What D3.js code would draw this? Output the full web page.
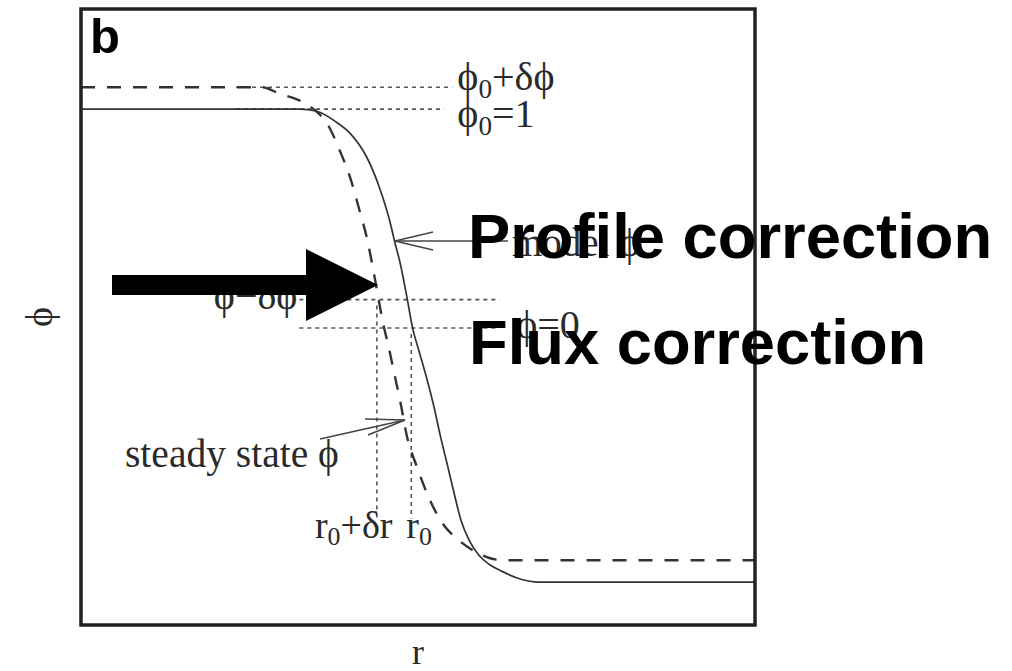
<!DOCTYPE html>
<html>
<head>
<meta charset="utf-8">
<script src="https://cdn.jsdelivr.net/npm/d3@7"></script>
<style>
  html, body { margin: 0; padding: 0; background: #fff; }
  svg { display: block; }
  .serif { font-family: "Liberation Serif", "DejaVu Serif", "Times New Roman", serif; fill: #2a2a2a; }
  .bold-sans { font-family: "Liberation Sans", Arial, Helvetica, sans-serif; font-weight: bold; fill: #000; }
</style>
</head>
<body>
<svg id="chart" width="1012" height="671"></svg>
<script>
// ---- data -------------------------------------------------------------
// radial coordinate r (arbitrary units) and order parameter ϕ

// solid profile (model ϕ)
const modelR   = [0, 3.24, 3.50, 3.79, 3.99, 4.24, 4.43, 4.58, 4.65, 4.74, 4.83, 4.92, 5.02,
                  5.13, 5.23, 5.33, 5.44, 5.54, 5.64, 5.76, 5.91, 6.06, 6.24, 6.46, 6.80, 10];
const modelPhi = [1.00, 1.00, 0.99, 0.94, 0.89, 0.78, 0.64, 0.49, 0.40, 0.29, 0.15, 0.00, -0.11,
                  -0.23, -0.35, -0.49, -0.63, -0.76, -0.88, -0.97, -1.04, -1.08, -1.11, -1.14, -1.16, -1.16];

// dashed profile (steady state ϕ)
const steadyR   = [0, 2.68, 2.95, 3.24, 3.47, 3.66, 3.84, 3.99, 4.13, 4.25, 4.34, 4.41, 4.49,
                   4.56, 4.65, 4.74, 4.84, 4.98, 5.14, 5.36, 5.61, 5.84, 6.06, 6.28, 10];
const steadyPhi = [1.10, 1.10, 1.07, 1.04, 0.995, 0.93, 0.81, 0.69, 0.54, 0.40, 0.26, 0.14, 0.01,
                   -0.08, -0.21, -0.34, -0.50, -0.63, -0.76, -0.89, -0.97, -1.02, -1.05, -1.06, -1.06];

// horizontal reference levels of ϕ and where their guides start / end in r
const levelNames = ["ϕ0+δϕ", "ϕ0=1", "ϕ−δϕ", "ϕ=0"];
const levelPhi   = [1.10, 1.00, 0.13, 0.00];
const levelFrom  = [2.30, 2.30, 3.24, 3.24];
const levelTo    = [5.51, 5.39, 6.21, 6.19];

// vertical reference positions in r
const radiusNames = ["r0+δr", "r0"];
const radiusR     = [4.39, 4.90];
const radiusPhi   = [0.13, 0.00];
const radiusLow   = -0.87;

// ---- layout -----------------------------------------------------------
const svg = d3.select("#chart");
const frame = { left: 81, right: 755, top: 9, bottom: 625 };

const x = d3.scaleLinear().domain([0, 10]).range([frame.left, frame.right]);
const y = d3.scaleLinear().domain([-1.356, 1.457]).range([frame.bottom, frame.top]);

const plot = svg.append("g");

// guide lines (dotted)
levelPhi.forEach((p, i) => {
  plot.append("line")
    .attr("x1", x(levelFrom[i])).attr("x2", x(levelTo[i]))
    .attr("y1", y(p)).attr("y2", y(p))
    .attr("stroke", "#555").attr("stroke-width", 1.6)
    .attr("stroke-dasharray", "4,4");
});
radiusR.forEach((r, i) => {
  plot.append("line")
    .attr("x1", x(r)).attr("x2", x(r))
    .attr("y1", y(radiusPhi[i]) + 6).attr("y2", y(radiusLow))
    .attr("stroke", "#555").attr("stroke-width", 1.6)
    .attr("stroke-dasharray", "4,4");
});

// profiles
const line = d3.line()
  .x(d => x(d[0])).y(d => y(d[1]))
  .curve(d3.curveMonotoneX);

plot.append("path")
  .datum(d3.zip(steadyR, steadyPhi))
  .attr("d", line)
  .attr("fill", "none").attr("stroke", "#333").attr("stroke-width", 2.4)
  .attr("stroke-dasharray", "14,12");

plot.append("path")
  .datum(d3.zip(modelR, modelPhi))
  .attr("d", line)
  .attr("fill", "none").attr("stroke", "#333").attr("stroke-width", 1.7);

// frame
plot.append("rect")
  .attr("x", frame.left).attr("y", frame.top)
  .attr("width", frame.right - frame.left).attr("height", frame.bottom - frame.top)
  .attr("fill", "none").attr("stroke", "#222").attr("stroke-width", 3.5);

// text with "0" subscripts
function richText(g, str, px, py, size, anchor) {
  const t = g.append("text").attr("class", "serif")
    .attr("x", px).attr("y", py)
    .attr("font-size", size)
    .attr("text-anchor", anchor || "start");
  const parts = str.split(/(0)/).filter(s => s.length);
  let sub = false;
  parts.forEach((s, k) => {
    const isSub = s === "0" && k > 0 && !/=$/.test(parts[k - 1]);
    const ts = t.append("tspan").text(s);
    if (isSub) {
      ts.attr("font-size", size * 0.68).attr("dy", size * 0.2);
      sub = true;
    } else if (sub) {
      ts.attr("dy", -size * 0.2);
      sub = false;
    }
  });
  return t;
}

// level labels
richText(plot, levelNames[0], x(levelTo[0]) + 5, y(levelPhi[0]) + 3, 40);
richText(plot, levelNames[1], x(levelTo[0]) + 5, y(levelPhi[1]) + 18, 40);
richText(plot, levelNames[2], x(levelFrom[2]) - 2, y(levelPhi[2]) + 9, 40, "end");
richText(plot, levelNames[3], x(levelTo[3]) + 18, y(levelPhi[3]) + 10, 40);

// radius labels
richText(plot, radiusNames[0], x(radiusR[0]) - 62, y(radiusLow) + 19, 38);
richText(plot, radiusNames[1], x(radiusR[1]) - 5, y(radiusLow) + 19, 38);

// annotation arrows with open heads
function openArrow(g, x0, y0, x1, y1, a1, a2) {
  g.append("line").attr("x1", x0).attr("y1", y0).attr("x2", x1).attr("y2", y1)
    .attr("stroke", "#444").attr("stroke-width", 1.5);
  [a1, a2].forEach(a => {
    g.append("line").attr("x1", x1).attr("y1", y1).attr("x2", a[0]).attr("y2", a[1])
      .attr("stroke", "#444").attr("stroke-width", 1.5);
  });
}
openArrow(plot, 508, 241, 395, 241, [433, 232], [433, 250]);
openArrow(plot, 320, 439, 405, 420, [365, 419], [368, 435]);

plot.append("text").attr("class", "serif").attr("font-size", 39)
  .attr("x", 512).attr("y", 256).text("model ϕ");
plot.append("text").attr("class", "serif").attr("font-size", 39.5)
  .attr("x", 125).attr("y", 467).text("steady state ϕ");

// panel letter
plot.append("text").attr("class", "bold-sans").attr("font-size", 49)
  .attr("x", 90).attr("y", 53).attr("fill", "#1a1a1a").text("b");

// axis titles
plot.append("text").attr("class", "serif").attr("font-size", 36)
  .attr("x", (frame.left + frame.right) / 2).attr("y", 664)
  .attr("text-anchor", "middle").text("r");
plot.append("text").attr("class", "serif").attr("font-size", 38)
  .attr("transform", `translate(52, ${(frame.top + frame.bottom) / 2}) rotate(-90)`)
  .attr("text-anchor", "middle").text("ϕ");

// ---- overlay: correction arrow and headings ----------------------------
const over = svg.append("g");
over.append("path")
  .attr("d", "M112,275 L306,275 L306,249 L378,285 L306,321 L306,295 L112,295 Z")
  .attr("fill", "#000");
over.append("text").attr("class", "bold-sans").attr("font-size", 63.3)
  .attr("x", 468).attr("y", 258).text("Profile correction");
over.append("text").attr("class", "bold-sans").attr("font-size", 63.3)
  .attr("x", 469).attr("y", 364).text("Flux correction");
</script>
</body>
</html>
